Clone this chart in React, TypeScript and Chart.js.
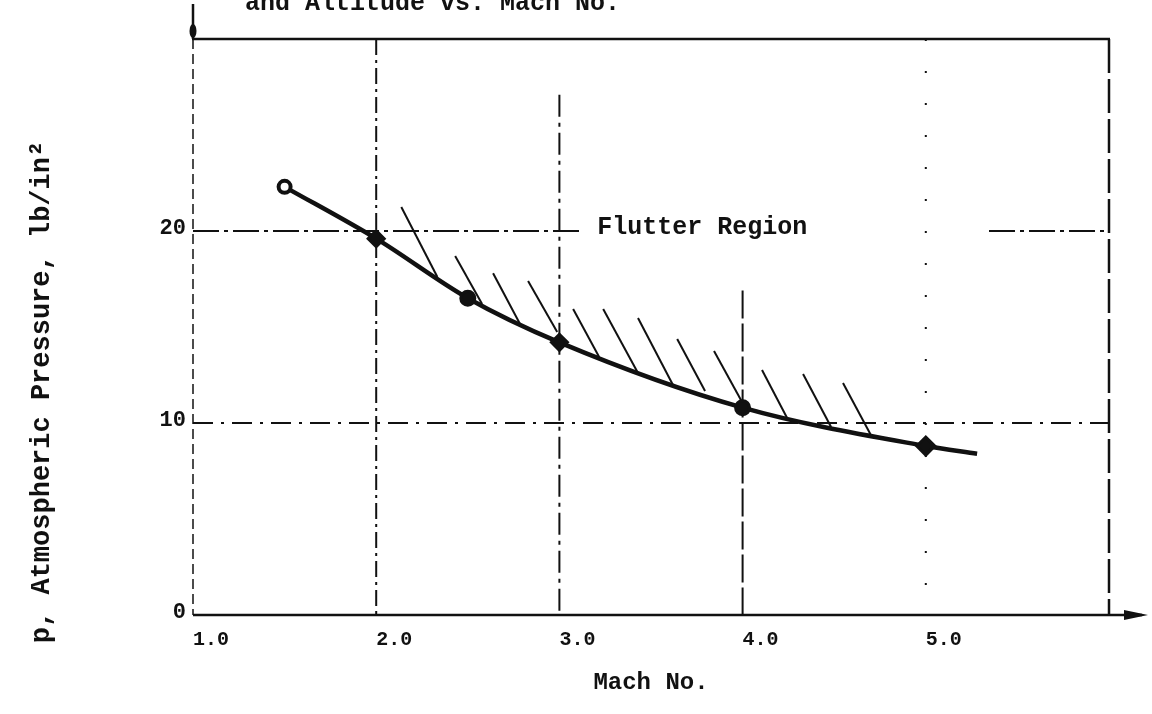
import { useEffect, useRef } from "react";
import { Chart, registerables } from "chart.js";
Chart.register(...registerables);

// ---- data ----
const machNo = [1.5, 2.0, 2.5, 3.0, 4.0, 5.0, 5.28];
const pressure = [22.3, 19.6, 16.5, 14.2, 10.8, 8.8, 8.4];
const markerStyle = ["circle", "rectRot", "circle", "rectRot", "circle", "rectRot", "circle"];
const markerSize = [6, 8, 7, 8, 7, 9, 0];
const markerFill = ["#ffffff", "#111", "#111", "#111", "#111", "#111", "#111"];
const markerEdge = [4, 3, 3, 3, 3, 3, 0];

const hatchTopX = [2.137, 2.431, 2.638, 2.829, 3.075, 3.239, 3.429, 3.643, 3.844, 4.106, 4.33, 4.548];
const hatchTopY = [21.25, 18.7, 17.8, 17.4, 15.94, 15.94, 15.47, 14.38, 13.75, 12.76, 12.55, 12.08];
const hatchBaseX = [2.334, 2.578, 2.791, 2.988, 3.217, 3.429, 3.62, 3.795, 3.997, 4.243, 4.483, 4.706];
const hatchBaseY = [17.6, 16.2, 15.05, 14.74, 13.44, 12.6, 11.98, 11.67, 11.09, 10.26, 9.79, 9.27];

const xTickValues = [1, 2, 3, 4, 5, 6];
const xTickLabels = ["1.0", "2.0", "3.0", "4.0", "5.0", ""];
const yTickValues = [0, 10, 20, 30];
const yTickLabels = ["0", "10", "20", ""];
const xGridValues = [2, 3, 4, 5];
const yGridValues = [10, 20];

const titleText = "and Altitude vs. Mach No.";
const xTitleText = "Mach No.";
const yTitleText = "p, Atmospheric Pressure, lb/in\u00B2";
const regionText = "Flutter Region";
const regionAt = [3.206, 19.84];

// ---- styles ----
const INK = "#111";
const FONT = "'Liberation Mono', 'DejaVu Sans Mono', monospace";
const WEIGHT = "bold";
const vGridStyle = [
  { top: 30, width: 2, dash: [16, 5, 3, 5] },
  { top: 27.1, width: 2, dash: [22, 6, 4, 6] },
  { top: 16.9, width: 2, dash: [28, 5] },
  { top: 30, width: 2, dash: [2, 30] },
];
const hGridStyle = [
  { width: 2, dash: [20, 8, 3, 8], gap: null as null | number[] },
  { width: 2, dash: [26, 5, 4, 5], gap: [3.13, 5.345] },
];

const decor = {
  id: "decor",
  beforeDatasetsDraw(chart: any) {
    const { ctx, chartArea: a, scales } = chart;
    const sx = scales.x;
    const sy = scales.y;
    const seg = (x1: number, y1: number, x2: number, y2: number, w: number, dash: number[]) => {
      ctx.save();
      ctx.strokeStyle = INK;
      ctx.lineWidth = w;
      ctx.setLineDash(dash);
      ctx.beginPath();
      ctx.moveTo(x1, y1);
      ctx.lineTo(x2, y2);
      ctx.stroke();
      ctx.restore();
    };
    xGridValues.forEach((v, i) => {
      const s = vGridStyle[i];
      const px = sx.getPixelForValue(v);
      seg(px, sy.getPixelForValue(s.top), px, a.bottom, s.width, s.dash);
    });
    yGridValues.forEach((v, i) => {
      const s = hGridStyle[i];
      const py = sy.getPixelForValue(v);
      if (s.gap) {
        seg(a.left, py, sx.getPixelForValue(s.gap[0]), py, s.width, s.dash);
        seg(sx.getPixelForValue(s.gap[1]), py, a.right, py, s.width, s.dash);
      } else {
        seg(a.left, py, a.right, py, s.width, s.dash);
      }
    });
    // frame
    seg(a.left, a.top, a.left, a.bottom, 1.5, [10, 5]);
    seg(a.right, a.top, a.right, a.bottom, 2.5, [34, 6]);
    seg(a.left - 1, a.top, a.right + 1, a.top, 2.5, []);
    // x axis with arrow
    const tip = a.right + 39;
    seg(a.left, a.bottom, tip - 6, a.bottom, 2.5, []);
    ctx.save();
    ctx.fillStyle = INK;
    ctx.beginPath();
    ctx.moveTo(tip, a.bottom);
    ctx.lineTo(tip - 24, a.bottom - 5);
    ctx.lineTo(tip - 24, a.bottom + 5);
    ctx.closePath();
    ctx.fill();
    ctx.restore();
    // y axis arrow above frame
    seg(a.left, a.top, a.left, 4, 2.5, []);
    ctx.save();
    ctx.fillStyle = INK;
    ctx.beginPath();
    ctx.ellipse(a.left, a.top - 8, 3.5, 7, 0, 0, Math.PI * 2);
    ctx.fill();
    ctx.restore();
  },
  afterDraw(chart: any) {
    const { ctx, scales } = chart;
    ctx.save();
    ctx.fillStyle = INK;
    ctx.textAlign = "left";
    ctx.textBaseline = "alphabetic";
    ctx.font = `${WEIGHT} 25px ${FONT}`;
    ctx.fillText(titleText, 245, 10);
    ctx.fillText(regionText, scales.x.getPixelForValue(regionAt[0]), scales.y.getPixelForValue(regionAt[1]));
    ctx.translate(42, 392);
    ctx.rotate(-Math.PI / 2);
    ctx.textAlign = "center";
    ctx.textBaseline = "middle";
    ctx.font = `${WEIGHT} 27px ${FONT}`;
    ctx.fillText(yTitleText, 0, 0);
    ctx.restore();
  },
};

export default function App() {
  const ref = useRef<HTMLCanvasElement>(null);
  useEffect(() => {
    const hatchSets = hatchTopX.map((_, i) => ({
      data: [
        { x: hatchTopX[i], y: hatchTopY[i] },
        { x: hatchBaseX[i], y: hatchBaseY[i] },
      ],
      borderColor: INK,
      borderWidth: 2,
      pointRadius: 0,
      tension: 0,
    }));
    const chart = new Chart(ref.current as HTMLCanvasElement, {
      type: "line",
      data: {
        datasets: [
          {
            data: machNo.map((m, i) => ({ x: m, y: pressure[i] })),
            borderColor: INK,
            borderWidth: 4.5,
            cubicInterpolationMode: "monotone",
            pointStyle: markerStyle as any,
            pointRadius: markerSize,
            pointBackgroundColor: markerFill,
            pointBorderColor: INK,
            pointBorderWidth: markerEdge,
          } as any,
          ...hatchSets,
        ],
      },
      options: {
        animation: false,
        responsive: false,
        devicePixelRatio: 1,
        layout: { padding: { top: 39, right: 43, bottom: 0, left: 0 } },
        plugins: { legend: { display: false }, tooltip: { enabled: false }, title: { display: false } },
        scales: {
          x: {
            type: "linear",
            min: 1,
            max: 6,
            afterBuildTicks: (s: any) => {
              s.ticks = xTickValues.map((v) => ({ value: v }));
            },
            afterFit: (s: any) => {
              s.height = 99;
            },
            ticks: {
              callback: (_v: any, i: number) => xTickLabels[i],
              font: { family: FONT, size: 20, weight: WEIGHT },
              color: INK,
              align: "start",
              padding: 13,
              maxRotation: 0,
            },
            grid: { display: false, drawTicks: false },
            border: { display: false },
            title: {
              display: true,
              text: xTitleText,
              font: { family: FONT, size: 24, weight: WEIGHT },
              color: INK,
              padding: { top: 0, bottom: 17 },
            },
          },
          y: {
            type: "linear",
            min: 0,
            max: 30,
            afterBuildTicks: (s: any) => {
              s.ticks = yTickValues.map((v) => ({ value: v }));
            },
            afterFit: (s: any) => {
              s.width = 193;
            },
            ticks: {
              callback: (_v: any, i: number) => yTickLabels[i],
              font: { family: FONT, size: 22, weight: WEIGHT },
              color: INK,
              padding: 7,
              labelOffset: -3,
            } as any,
            grid: { display: false, drawTicks: false },
            border: { display: false },
          },
        },
      } as any,
      plugins: [decor],
    });
    return () => chart.destroy();
  }, []);
  return (
    <div style={{ position: "fixed", left: 0, top: 0, width: 1152, height: 714, background: "#fff" }}>
      <canvas ref={ref} width={1152} height={714} style={{ display: "block", width: 1152, height: 714 }} />
    </div>
  );
}
